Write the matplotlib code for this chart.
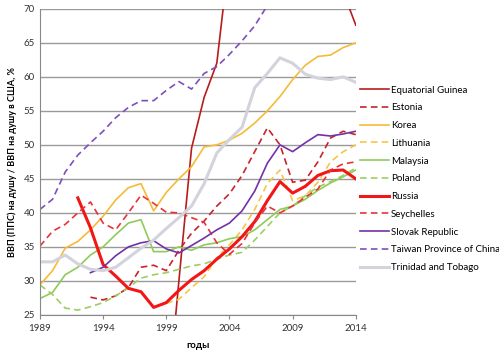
import numpy as np
import matplotlib
matplotlib.use("Agg")
import matplotlib.pyplot as plt

# GDP (PPP) per capita relative to US, %
years = list(range(1989, 2015))

equatorial_guinea_years = list(range(1998, 2015))
equatorial_guinea = [7, 10, 30, 49.5, 57, 62, 78, 82, 86, 90, 92, 88, 84, 80, 76, 72.5, 67.6]

estonia_years = list(range(1993, 2015))
estonia = [27.6, 27.2, 27.8, 29.0, 32.0, 32.3, 31.5, 34.5, 37.0, 38.8, 41.0, 42.8, 45.5, 49.0,
           52.5, 50.0, 44.5, 44.8, 47.5, 51.0, 52.0, 51.5]

korea = [29.4, 31.5, 34.8, 35.8, 37.5, 39.5, 41.9, 43.7, 44.3, 40.3, 43.0, 45.0, 46.8, 49.7,
         50.0, 50.7, 51.7, 53.2, 55.0, 57.1, 59.6, 61.7, 63.0, 63.2, 64.3, 65.0]

lithuania_years = list(range(1999, 2015))
lithuania = [26.7, 27.3, 29.0, 30.6, 33.4, 35.3, 37.5, 40.5, 44.3, 46.3, 41.8, 42.5, 44.5,
             47.5, 49.0, 50.0]

malaysia = [27.4, 28.3, 30.9, 32.0, 33.8, 35.0, 36.8, 38.5, 39.0, 34.3, 34.3, 35.0, 34.5, 35.3,
            35.6, 36.2, 36.5, 37.5, 39.0, 40.5, 41.0, 42.0, 43.3, 44.4, 45.3, 46.3]

poland = [29.4, 28.0, 26.0, 25.7, 26.2, 26.8, 27.8, 29.0, 30.4, 30.9, 31.2, 31.7, 32.2, 32.5,
          33.2, 33.8, 34.2, 36.0, 38.0, 40.0, 41.0, 42.5, 43.8, 44.6, 45.5, 46.6]

russia_years = list(range(1992, 2015))
russia = [42.2, 37.8, 32.4, 30.7, 28.9, 28.4, 26.1, 26.8, 28.6, 30.2, 31.5, 33.2, 34.7, 36.5,
          38.7, 41.8, 44.6, 42.9, 43.9, 45.5, 46.2, 46.3, 45.0]

seychelles = [35.1, 37.3, 38.3, 40.0, 41.6, 38.5, 37.5, 40.0, 42.6, 41.4, 40.1, 40.0, 39.3, 38.6,
              35.6, 33.9, 35.5, 38.5, 41.0, 40.0, 41.0, 42.3, 43.5, 46.3, 47.2, 47.5]

slovak_years = list(range(1993, 2015))
slovak = [31.2, 32.0, 33.7, 35.0, 35.6, 35.9, 34.7, 34.1, 35.2, 36.3, 37.5, 38.5, 40.3, 43.2,
          47.3, 50.0, 49.0, 50.3, 51.5, 51.3, 51.6, 52.0]

taiwan_years = list(range(1989, 2009))
taiwan = [40.5, 42.0, 46.0, 48.5, 50.3, 52.0, 54.0, 55.5, 56.5, 56.5, 58.0, 59.3, 58.2, 60.5,
          61.5, 63.3, 65.3, 67.5, 70.5, 73.0]

trinidad = [32.8, 32.8, 33.8, 32.5, 31.7, 31.5, 32.0, 33.4, 34.8, 36.0, 37.7, 39.3, 41.0, 44.3,
            48.8, 50.8, 52.6, 58.4, 60.5, 62.8, 62.0, 60.4, 59.8, 59.6, 60.0, 59.2]

solid = "-"
dash = (0, (4, 2.5))

series = [
    ("Equatorial Guinea", equatorial_guinea_years, equatorial_guinea, "#B81C1C", solid, 1.2),
    ("Estonia", estonia_years, estonia, "#C8222C", dash, 1.2),
    ("Korea", years, korea, "#F6BB35", solid, 1.2),
    ("Lithuania", lithuania_years, lithuania, "#F7C548", dash, 1.2),
    ("Malaysia", years, malaysia, "#8FCB58", solid, 1.2),
    ("Poland", years, poland, "#9CCF62", dash, 1.2),
    ("Russia", russia_years, russia, "#F21616", solid, 2.2),
    ("Seychelles", years, seychelles, "#E83238", dash, 1.2),
    ("Slovak Republic", slovak_years, slovak, "#7232A6", solid, 1.2),
    ("Taiwan Province of China", taiwan_years, taiwan, "#7C50BC", dash, 1.2),
    ("Trinidad and Tobago", years, trinidad, "#D3D3DD", solid, 2.2),
]

plt.rcParams['font.family'] = ['Lato', 'DejaVu Sans']

fig = plt.figure(figsize=(4.99, 3.53), dpi=100)
ax = fig.add_axes([0.080, 0.108, 0.633, 0.867])

for name, xs, ys, color, style, lw in series:
    ax.plot(xs, ys, color=color, linestyle=style, linewidth=lw, label=name)

ax.set_xlim(1989, 2014)
ax.set_ylim(25, 70)
ax.set_xticks([1989, 1994, 1999, 2004, 2009, 2014])
ax.set_yticks(np.arange(25, 71, 5))
ax.yaxis.grid(True, color="#9A9A9A", linewidth=1.0)
ax.set_axisbelow(True)
ax.tick_params(axis="both", labelsize=7, colors="#333333", length=0)
ax.tick_params(axis="x", length=3, color="#888888", direction="out")
for s in ["top", "right"]:
    ax.spines[s].set_visible(False)
ax.spines["left"].set_color("#888888")
ax.spines["bottom"].set_color("#888888")

ax.set_xlabel("годы", fontsize=7, fontweight="bold", labelpad=6)
ax.set_ylabel("ВВП (ППС) на душу / ВВП на душу в США, %", fontsize=6.5, fontweight="bold", labelpad=5)

ax.legend(loc="upper left", bbox_to_anchor=(1.0, 0.762), frameon=False, fontsize=7,
          handlelength=3.0, handletextpad=0.2, labelspacing=0.9, borderaxespad=0.2,
          borderpad=0.2)

fig.savefig("out.png", dpi=100)
